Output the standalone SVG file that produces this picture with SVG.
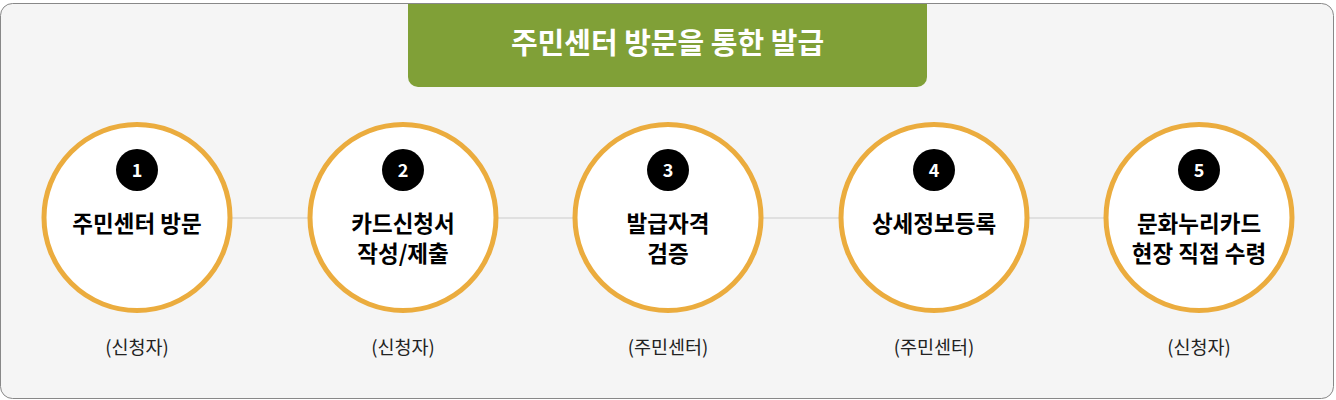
<svg xmlns="http://www.w3.org/2000/svg" width="1336" height="400" viewBox="0 0 1336 400">
<style>
.ring{fill:#ffffff;stroke:#EBAC3E;stroke-width:5}
.badge{fill:#000000}
.num{font-family:"Noto Sans CJK KR","Noto Sans",sans-serif;font-weight:700;font-size:18px;fill:#ffffff;text-anchor:middle}
.title{font-family:"Noto Sans CJK KR","Noto Sans",sans-serif;font-weight:700;font-size:22.5px;fill:#000000;text-anchor:middle}
.role{font-family:"Noto Sans CJK KR","Noto Sans",sans-serif;font-size:18.5px;fill:#222222;text-anchor:middle}
.head{font-family:"Noto Sans CJK KR","Noto Sans",sans-serif;font-weight:700;font-size:29px;fill:#ffffff;text-anchor:middle}
.conn{stroke:#cccccc;stroke-width:1.2}
</style>
<rect x="0.5" y="3.5" width="1333" height="395" rx="12" ry="12" fill="#F5F5F5" stroke="#888888" stroke-width="1"/>
<g id="header">
<path d="M408 4 H927 V77 A10 10 0 0 1 917 87 H418 A10 10 0 0 1 408 77 Z" fill="#80A037"/>
<text class="head" x="667.5" y="54">주민센터 방문을 통한 발급</text>
</g>
<g id="connectors">
<line class="conn" x1="232" y1="218" x2="308" y2="218"/>
<line class="conn" x1="498" y1="218" x2="573" y2="218"/>
<line class="conn" x1="763" y1="218" x2="839" y2="218"/>
<line class="conn" x1="1029" y1="218" x2="1104" y2="218"/>
</g>
<g id="step1">
<circle class="ring" cx="137" cy="217.5" r="93"/>
<circle class="badge" cx="137" cy="170" r="21"/>
<text class="num" x="137" y="176.5">1</text>
<text class="title" x="137" y="232">주민센터 방문</text>
<text class="role" x="137" y="354">(신청자)</text>
</g>
<g id="step2">
<circle class="ring" cx="403" cy="217.5" r="93"/>
<circle class="badge" cx="403" cy="170" r="21"/>
<text class="num" x="403" y="176.5">2</text>
<text class="title" x="403" y="232">카드신청서</text>
<text class="title" x="403" y="262">작성/제출</text>
<text class="role" x="403" y="354">(신청자)</text>
</g>
<g id="step3">
<circle class="ring" cx="668" cy="217.5" r="93"/>
<circle class="badge" cx="668" cy="170" r="21"/>
<text class="num" x="668" y="176.5">3</text>
<text class="title" x="668" y="232">발급자격</text>
<text class="title" x="668" y="262">검증</text>
<text class="role" x="668" y="354">(주민센터)</text>
</g>
<g id="step4">
<circle class="ring" cx="934" cy="217.5" r="93"/>
<circle class="badge" cx="934" cy="170" r="21"/>
<text class="num" x="934" y="176.5">4</text>
<text class="title" x="934" y="232">상세정보등록</text>
<text class="role" x="934" y="354">(주민센터)</text>
</g>
<g id="step5">
<circle class="ring" cx="1199" cy="217.5" r="93"/>
<circle class="badge" cx="1199" cy="170" r="21"/>
<text class="num" x="1199" y="176.5">5</text>
<text class="title" x="1199" y="232">문화누리카드</text>
<text class="title" x="1199" y="262">현장 직접 수령</text>
<text class="role" x="1199" y="354">(신청자)</text>
</g>
</svg>
